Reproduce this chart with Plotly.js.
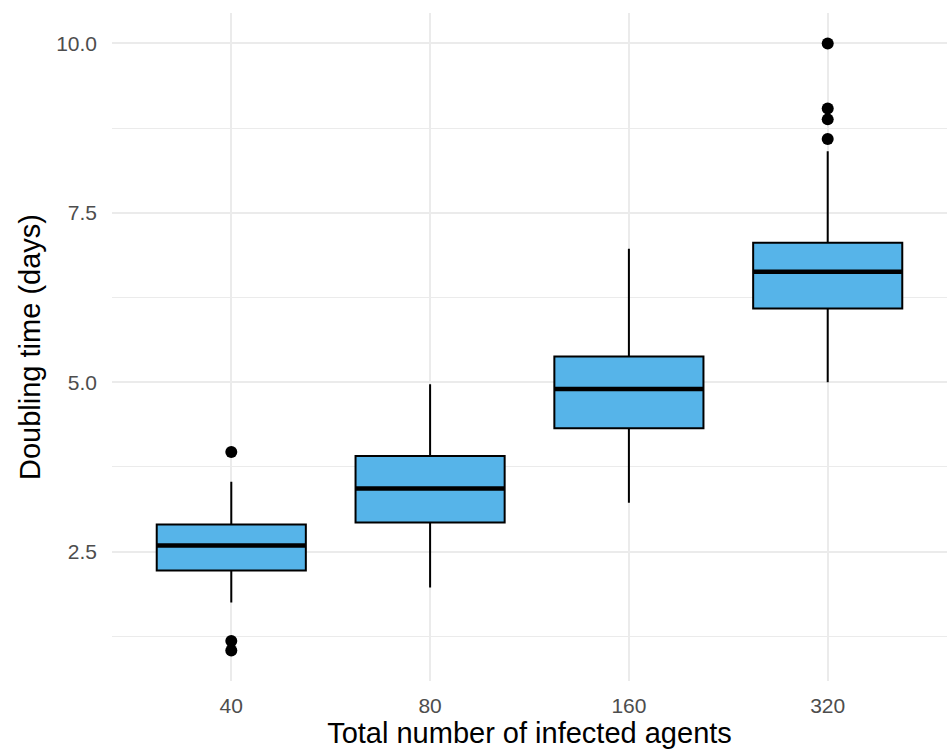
<!DOCTYPE html>
<html>
<head>
<meta charset="utf-8">
<script src="https://cdn.plot.ly/plotly-3.0.1.min.js"></script>
<style>html,body{margin:0;padding:0;background:#fff;}#chart{width:948px;height:752px;}</style>
</head>
<body>
<div id="chart"></div>
<script>
// Data
const categories = ['40', '80', '160', '320'];
const q1 = [2.22, 2.93, 4.32, 6.09];
const median = [2.59, 3.43, 4.90, 6.63];
const q3 = [2.90, 3.91, 5.38, 7.06];
const lowerWhisker = [1.75, 1.97, 3.22, 5.00];
const upperWhisker = [3.53, 4.97, 6.97, 8.41];
const outlierCategory = ['40', '40', '40', '320', '320', '320', '320'];
const outlierValue = [3.97, 1.18, 1.04, 10.0, 9.04, 8.88, 8.59];
const yTickVals = [2.5, 5.0, 7.5, 10.0];
const yTickText = ['2.5', '5.0', '7.5', '10.0'];
const yMinorVals = [1.25, 3.75, 6.25, 8.75];

const pos = categories.map((c, i) => i);
const halfWidth = 0.375;

const traces = [];
traces.push({
  type: 'box',
  x: pos,
  q1: q1,
  median: median,
  q3: q3,
  lowerfence: lowerWhisker,
  upperfence: upperWhisker,
  width: 0.75,
  whiskerwidth: 0,
  fillcolor: '#56B4E9',
  line: {color: '#000000', width: 2},
  boxpoints: false,
  hoverinfo: 'skip',
  showlegend: false
});
// thicker median lines (ggplot fatten)
const mx = [], my = [];
pos.forEach((p, i) => {
  mx.push(p - halfWidth, p + halfWidth, null);
  my.push(median[i], median[i], null);
});
traces.push({
  type: 'scatter', mode: 'lines', x: mx, y: my,
  line: {color: '#000000', width: 4.5}, showlegend: false, hoverinfo: 'skip'
});
traces.push({
  type: 'scatter', mode: 'markers',
  x: outlierCategory.map(c => categories.indexOf(c)),
  y: outlierValue,
  marker: {color: '#000000', size: 12},
  showlegend: false, hoverinfo: 'skip'
});

const layout = {
  width: 948, height: 752,
  margin: {l: 112, r: 1, t: 13, b: 71},
  paper_bgcolor: '#ffffff', plot_bgcolor: '#ffffff',
  font: {family: 'Liberation Sans, Arial, sans-serif', color: '#000000'},
  xaxis: {
    range: [-0.6, 3.6],
    tickmode: 'array', tickvals: pos, ticktext: categories,
    showgrid: true, gridcolor: '#EBEBEB', gridwidth: 2,
    zeroline: false, showline: false, ticks: '',
    ticklabelstandoff: 10,
    tickfont: {size: 21, color: '#4D4D4D'},
    title: {text: 'Total number of infected agents', font: {size: 29, color: '#000000'}, standoff: 2}
  },
  yaxis: {
    range: [0.59, 10.45],
    tickmode: 'array', tickvals: yTickVals, ticktext: yTickText,
    showgrid: true, gridcolor: '#EBEBEB', gridwidth: 2,
    minor: {tickmode: 'array', tickvals: yMinorVals, showgrid: true, gridcolor: '#EBEBEB', gridwidth: 1},
    zeroline: false, showline: false, ticks: '',
    ticklabelstandoff: 14,
    tickfont: {size: 21, color: '#4D4D4D'},
    title: {text: 'Doubling time (days)', font: {size: 29, color: '#000000'}, standoff: 6}
  }
};

Plotly.newPlot('chart', traces, layout, {displayModeBar: false, staticPlot: true});
</script>
</body>
</html>
